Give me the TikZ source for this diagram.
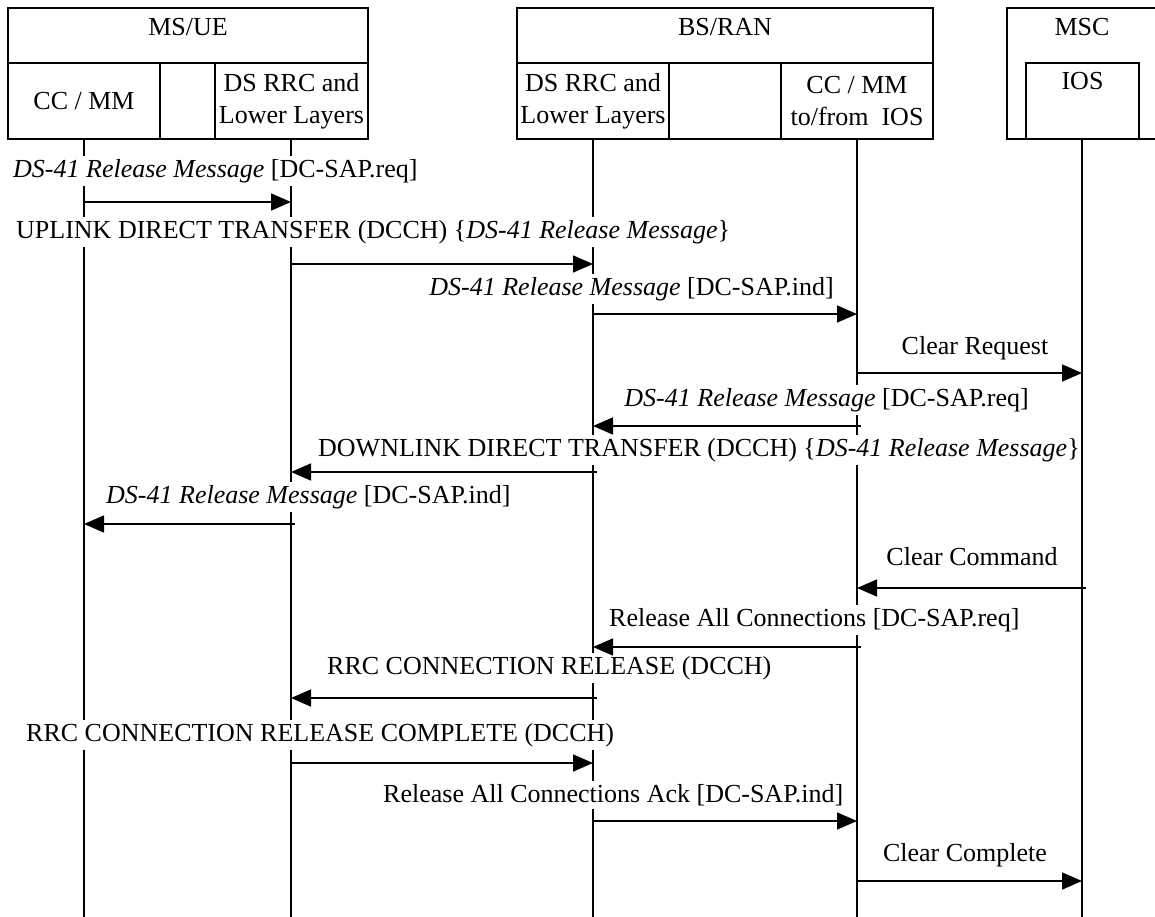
\documentclass[tikz,border=0pt]{standalone}
\usepackage{fontspec}
\setmainfont{Liberation Serif}
\usetikzlibrary{arrows.meta}
\begin{document}
\begin{tikzpicture}[x=1pt,y=-1pt,
  frame/.style={draw, line width=1.6pt, inner sep=0pt, outer sep=0pt},
  txt/.style={font=\fontsize{26}{32}\selectfont, inner sep=0pt, align=center},
  lbl/.style={font=\fontsize{26}{32}\selectfont, fill=white, inner xsep=1pt, inner ysep=3.5pt},
  life/.style={line width=1.6pt},
  msg/.style={line width=1.6pt, -{Triangle[length=20pt,width=17pt]}},
  back/.style={msg, shorten <=-4pt}]
\useasboundingbox (0,0) rectangle (1155,917);

% entity frames
\node[frame, anchor=north west, minimum width=360pt, minimum height=131pt] (msue) at (8,8) {};
\node[frame, anchor=north west, minimum width=416pt, minimum height=131pt] (bsran) at (517,8) {};
\node[frame, anchor=north west, minimum width=150pt, minimum height=131pt] (msc) at (1007,8) {};
\node[txt] (msuet) at (188,27) {MS/UE};
\node[txt] (bsrant) at (725,27) {BS/RAN};
\node[txt] (msct) at (1082,27) {MSC};
\coordinate (ydiv) at (0,63);
\draw[line width=1.6pt] (msue.west |- ydiv) -- (msue.east |- ydiv);
\draw[line width=1.6pt] (bsran.west |- ydiv) -- (bsran.east |- ydiv);

% protocol layer boxes
\node[frame, txt, anchor=north west, minimum width=152pt, minimum height=76pt] (ue1) at (8,63) {CC / MM};
\node[frame, txt, anchor=north west, minimum width=153pt, minimum height=76pt] (ue2) at (215,63) {DS RRC and\\Lower Layers};
\node[frame, txt, anchor=north west, minimum width=152pt, minimum height=76pt] (bs1) at (517,63) {DS RRC and\\Lower Layers};
\node[frame, txt, anchor=north west, minimum width=152pt, minimum height=76pt] (bs2) at (781,63) {CC / MM\\to/from\ \ IOS};
\node[frame, anchor=north west, minimum width=113pt, minimum height=76pt] (ios) at (1026,63) {};
\node[txt] (iost) at (1082.5,81) {IOS};

% lifelines, dropped from the middle of each layer box
\coordinate (ybot) at (0,917);
\coordinate (ue1x) at (84,0);
\coordinate (ue2x) at (291,0);
\coordinate (bs1x) at (593,0);
\coordinate (bs2x) at (857,0);
\coordinate (iosx) at (1082,0);
\foreach \n in {ue1,ue2,bs1,bs2,ios}
  \draw[life] (\n x |- \n.south) -- (\n x |- ybot);

% message labels
\node[lbl, anchor=west] (t1) at (12,171) {\textit{DS-41 Release Message} [DC-SAP.req]};
\node[lbl, anchor=west] (t2) at (15,232) {UPLINK DIRECT TRANSFER (DCCH) \{\textit{DS-41 Release Message}\}};
\node[lbl, anchor=east] (t3) at (835,289) {\textit{DS-41 Release Message} [DC-SAP.ind]};
\node[lbl] (t4) at (975,348) {Clear Request};
\node[lbl, anchor=east] (t5) at (1030,400) {\textit{DS-41 Release Message} [DC-SAP.req]};
\node[lbl, anchor=west] (t6) at (317,450) {DOWNLINK DIRECT TRANSFER (DCCH) \{\textit{DS-41 Release Message}\}};
\node[lbl, anchor=west] (t7) at (105,497) {\textit{DS-41 Release Message} [DC-SAP.ind]};
\node[lbl] (t8) at (972,557) {Clear Command};
\node[lbl, anchor=west] (t9) at (608,620) {Release All Connections [DC-SAP.req]};
\node[lbl, anchor=west] (t10) at (326,668) {RRC CONNECTION RELEASE (DCCH)};
\node[lbl, anchor=west] (t11) at (25,735) {RRC CONNECTION RELEASE COMPLETE (DCCH)};
\node[lbl, anchor=west] (t12) at (382,795) {Release All Connections Ack [DC-SAP.ind]};
\node[lbl] (t13) at (965,855) {Clear Complete};

% messages
\foreach \i/\a/\b/\y/\s in {1/ue1/ue2/202/msg, 2/ue2/bs1/264/msg, 3/bs1/bs2/314/msg,
    4/bs2/ios/373/msg, 5/bs2/bs1/426/back, 6/bs1/ue2/472/back, 7/ue2/ue1/524/back,
    8/ios/bs2/588/back, 9/bs2/bs1/647/back, 10/bs1/ue2/698/back, 11/ue2/bs1/763/msg,
    12/bs1/bs2/821/msg, 13/bs2/ios/881/msg} {
  \coordinate (y\i) at (0,\y);
  \coordinate (m\i a) at (\a x |- y\i);
  \coordinate (m\i b) at (\b x |- y\i);
  \draw[\s] (m\i a) -- (m\i b);
}
\end{tikzpicture}
\end{document}
